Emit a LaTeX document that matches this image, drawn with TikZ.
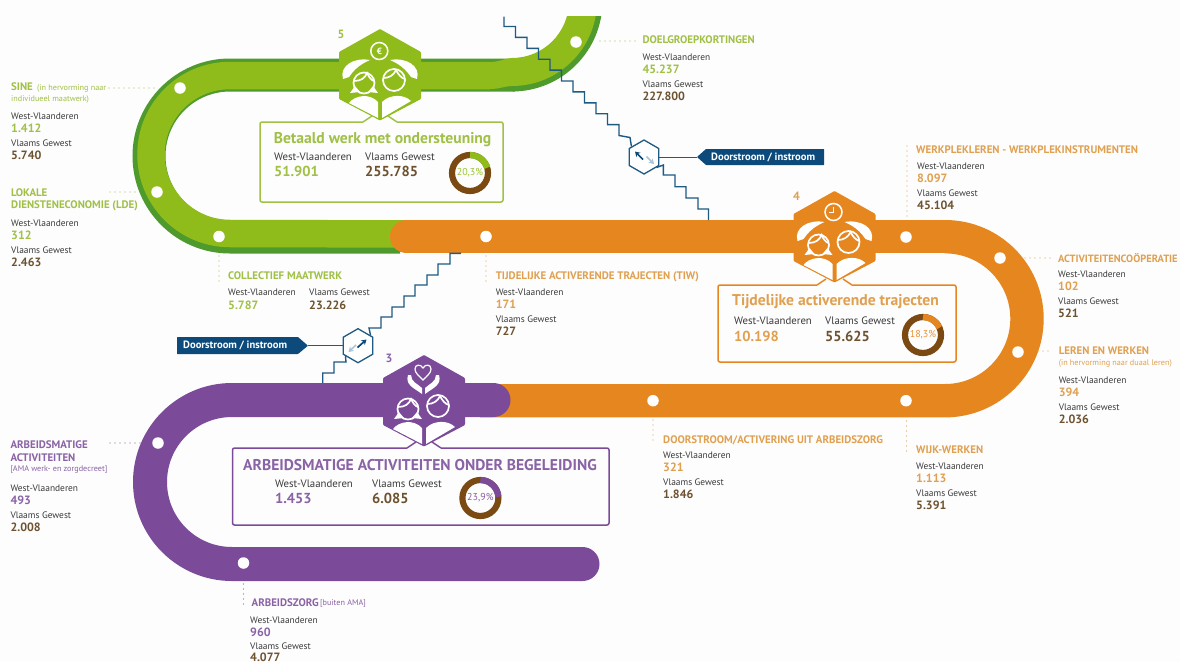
\documentclass[tikz,border=0pt]{standalone}
\usepackage{fontspec}
\setmainfont{PT Sans}
\usetikzlibrary{arrows.meta,shapes.geometric}
\definecolor{bggrey}{HTML}{FDFDFD}
\definecolor{grn}{HTML}{8FBC1B}
\definecolor{grnd}{HTML}{4E9A2C}
\definecolor{grnt}{HTML}{A0C046}
\definecolor{org}{HTML}{E6861E}
\definecolor{orgt}{HTML}{E0A050}
\definecolor{pur}{HTML}{7B4B99}
\definecolor{purt}{HTML}{8A62A6}
\definecolor{brn}{HTML}{7A4A12}
\definecolor{brnt}{HTML}{6E5230}
\definecolor{navy}{HTML}{0D4A7C}
\definecolor{stair}{HTML}{1E5A82}
\definecolor{lblue}{HTML}{A9C4DC}
\definecolor{txt}{HTML}{3A3A3A}
\tikzset{
  band/.style={line width=33pt,line cap=butt},
  spot/.style={circle,fill=white,inner sep=0pt,minimum size=11.5pt},
  leader/.style={line width=1.1pt,line cap=round,dash pattern=on 0pt off 5pt,draw=#1},
  stairline/.style={draw=stair,line width=1.4pt,line join=miter},
  head/.style={anchor=west,inner sep=0pt,font=\fontsize{10.9}{12}\selectfont\bfseries},
  small/.style={anchor=west,inner sep=0pt,font=\fontsize{8.2}{9}\selectfont,text=#1},
  wv/.style={anchor=west,inner sep=0pt,text=txt,font=\fontsize{9.4}{11}\selectfont},
  num/.style={anchor=west,inner sep=0pt,font=\fontsize{12}{14}\selectfont\bfseries},
  boxwv/.style={anchor=west,inner sep=0pt,text=txt,font=\fontsize{10.8}{12}\selectfont},
  bignum/.style={anchor=west,inner sep=0pt,font=\fontsize{14.5}{16}\selectfont\bfseries},
  boxtitle/.style={anchor=west,inner sep=0pt,font=\fontsize{15.6}{17}\selectfont\bfseries},
  stepnum/.style={inner sep=0pt,font=\fontsize{12}{14}\selectfont\bfseries},
  pct/.style={inner sep=0pt,font=\fontsize{10}{11}\selectfont},
  pennant/.style={anchor=west,inner sep=0pt,text=white,font=\fontsize{10.6}{12}\selectfont\bfseries},
  ico/.style={white,line width=1.7pt},
}
% name, x, y, west-vlaanderen, vlaams gewest, colour
\newcommand{\dblock}[6]{%
  \node[wv] (#1a) at (#2,#3) {West-Vlaanderen};
  \node[num,text=#6] (#1b) at (#2,#3+12.3) {#4};
  \node[wv] (#1c) at (#2,#3+27) {Vlaams Gewest};
  \node[num,text=brnt] (#1d) at (#2,#3+39.3) {#5};
}
% donut: name, x, y, colour, degrees, label
\newcommand{\donut}[6]{%
  \coordinate (#1) at (#2,#3);
  \draw[brn,line width=6.2pt] (#1) circle (18pt);
  \draw[#4,line width=6.2pt] (#2,#3-18) arc[start angle=-90,end angle=-90+#5,radius=18];
  \node[pct,text=#4!90!white] (#1t) at (#1) {#6};
}
% hexagon with people and book: x, y, colour
\newcommand{\hexbase}[3]{%
  \fill[#3,rounded corners=1pt] (#1,#2-46) -- (#1+41,#2-23) -- (#1+41,#2+24) -- (#1,#2+45.5) -- (#1-41,#2+24) -- (#1-41,#2-23) -- cycle;
  \begin{scope}[shift={(#1,#2)}]
    \draw[ico] (-16,8) circle (10.5pt);
    \draw[ico] (-26,6) .. controls (-19,6) and (-15,3) .. (-13,-2) .. controls (-11,2) and (-9,5) .. (-6,6);
    \fill[white] (-30,18) -- (-25,11) -- (-20,17) -- cycle;
    \fill[white] (-2,18) -- (-7,11) -- (-12,17) -- cycle;
    \draw[ico] (14,5) circle (11pt);
    \draw[ico] (3.5,3) .. controls (9,3) and (14,0) .. (16,-5) .. controls (18,-1) and (21,3) .. (25,4);
    \fill[white] (-31,28) .. controls (-25,20) and (-10,18) .. (-2,27) -- (-2,43) -- cycle;
    \fill[white] (2,27) .. controls (10,19) and (24,19) .. (31,26) -- (2,43) -- cycle;
  \end{scope}
}
\newcommand{\hands}[2]{%
  \begin{scope}[shift={(#1,#2)}]
    \fill[white] (-37,4) .. controls (-41,-9) and (-26,-18) .. (-10,-15) .. controls (-19,-11) and (-24,-7) .. (-28,-2) -- (-31,2) -- cycle;
    \fill[white] (37,4) .. controls (41,-9) and (26,-18) .. (10,-15) .. controls (19,-11) and (24,-7) .. (28,-2) -- (31,2) -- cycle;
  \end{scope}
}
\begin{document}
\begin{tikzpicture}[x=1pt,y=-1pt]
\useasboundingbox (0,0) rectangle (1180,662);
\fill[bggrey] (0,0) rectangle (1180,662);

% ---------- green band
\draw[band,grnd] (515,75) -- (230,75) arc[start angle=-90,end angle=-270,radius=81] -- (400,237);
\draw[grn,line width=27.5pt] (490,75.5) -- (230,75.5) arc[start angle=-90,end angle=-270,radius=79] -- (430,234);
\begin{scope}
  \clip (0,16) rectangle (1180,662);
  \draw[band,grnd] (512,75) arc[start angle=90,end angle=0,radius=74];
  \fill[grn] (440,62) -- (490,62) .. controls (500,62) and (505,58) .. (512,58) arc[start angle=90,end angle=0,radius=57] -- (597,1) arc[start angle=0,end angle=90,radius=85] .. controls (505,86) and (500,89) .. (490,89) -- (440,89) -- cycle;
\end{scope}

% ---------- orange band
\draw[org,line width=33.4pt,line cap=round] (406.7,236.7) -- (945,236.7);
\draw[band,org,line width=33.4pt] (945,236.7) arc[start angle=-90,end angle=90,radius=82] -- (480,400.7);

% ---------- purple band
\draw[pur,line width=34pt,line cap=round,line join=round] (493.5,400) -- (232,400) arc[start angle=-90,end angle=-270,radius=82] -- (582.5,564);

% ---------- staircases
\node[draw=stair,line width=1.3pt,fill=white,regular polygon,regular polygon sides=6,minimum size=34pt,inner sep=0pt,shape border rotate=30] (hup) at (644,157) {};
\node[draw=stair,line width=1.3pt,fill=white,regular polygon,regular polygon sides=6,minimum size=34pt,inner sep=0pt,shape border rotate=30] (hdn) at (358,345.7) {};
\coordinate (stA) at (504,16.5);
\coordinate (stB) at (708.5,220);
\coordinate (stC) at (461,253.3);
\coordinate (stD) at (322.7,383);
\draw[stairline] (stA) -- ++(0,10) -- ++(11.5,0) -- ++(0,10.9) -- ++(11.5,0) -- ++(0,10.9) -- ++(11.5,0) -- ++(0,10.9) -- ++(11.5,0) -- ++(0,10.9) -- ++(11.5,0) -- ++(0,10.9) -- ++(11.5,0) -- ++(0,10.9) -- ++(11.5,0) -- ++(0,10.9) -- ++(11.5,0) -- ++(0,10.9) -- ++(11.5,0) -- ++(0,10.9) -- ++(11.5,0) -- ++(0,10.9) -- (630,137.5) -- (hup.140);
\draw[stairline] (hup.-40) -- (663.4,165) -- (663.4,175) -- (675,175) -- (675,186.7) -- (686,186.7) -- (686,198) -- (698,198) -- (698,209) -- (708.5,209) -- (stB);
\draw[stairline] (stC) -- (450,253.3) -- (450,264) -- (438,264) -- (438,275) -- (427,275) -- (427,285) -- (415,285) -- (415,296) -- (404,296) -- (404,307) -- (392,307) -- (392,317) -- (381,317) -- (381,328) -- (369,328) -- (hdn.40);
\draw[stairline] (hdn.-140) -- (346,362) -- (334,362) -- (334,373) -- (322.7,373) -- (stD);
\draw[-{Stealth[length=5pt,width=6pt]},navy,line width=1.7pt] (643,159.5) -- (635,151.5);
\draw[-{Stealth[length=5pt,width=6pt]},lblue,line width=1.5pt] (646.5,156.5) -- (654,164);
\draw[-{Stealth[length=5pt,width=6pt]},navy,line width=1.7pt] (357.5,347.5) -- (366.5,339.5);
\draw[-{Stealth[length=5pt,width=6pt]},lblue,line width=1.5pt] (356,345) -- (348.5,352);

% ---------- pennants
\fill[navy,rounded corners=0.5pt] (706,149) -- (824,149) -- (824,165) -- (706,165) -- (697,157) -- cycle;
\coordinate (penA) at (697,157);
\draw[stair,line width=1pt] (hup) ++(15,0) -- (penA);
\node[pennant] (penAt) at (711,157.5) {Doorstroom / instroom};
\fill[navy,rounded corners=0.5pt] (177,337) -- (298,337) -- (308,345.7) -- (298,354) -- (177,354) -- cycle;
\coordinate (penB) at (308,345.7);
\draw[stair,line width=1pt] (penB) -- (hdn.west);
\node[pennant] (penBt) at (183,345.7) {Doorstroom / instroom};

% ---------- spots
\node[spot] (s1) at (576,42) {};
\node[spot] (s2) at (180,88) {};
\node[spot] (s3) at (157,192) {};
\node[spot] (s4) at (219,236.5) {};
\node[spot] (s5) at (486,236.5) {};
\node[spot] (s6) at (906,237) {};
\node[spot] (s7) at (1000,258) {};
\node[spot] (s8) at (1018,352) {};
\node[spot] (s9) at (653,400.7) {};
\node[spot] (s10) at (906,400.7) {};
\node[spot] (s11) at (158,443) {};
\node[spot] (s12) at (243.5,563) {};

% ---------- hexagons
\hexbase{380}{75}{grn}
\hands{380}{75}
\draw[ico,line width=1.5pt] (379.3,51) circle (8.5pt);
\node[inner sep=0pt,text=white,font=\fontsize{9}{10}\selectfont\bfseries] (euro) at (379.3,51) {€};
\hexbase{834.5}{237}{org}
\hands{834.5}{237}
\draw[ico,line width=1.5pt] (833.5,212) circle (8.5pt);
\draw[ico,line width=1.2pt] (833.5,207) -- (833.5,212.5) -- (829,212.5);
\hexbase{424}{401}{pur}
\begin{scope}[shift={(424,401)}]
  \draw[ico,line width=1.2pt] (-1,-21) .. controls (-5,-25) and (-9,-28) .. (-9,-32) .. controls (-9,-37) and (-3,-37) .. (-1,-33) .. controls (1,-37) and (7,-37) .. (7,-32) .. controls (7,-28) and (3,-25) .. (-1,-21) -- cycle;
  \fill[white] (-16,-26) .. controls (-19,-16) and (-10,-13) .. (-2,-7) -- (-2,-13) .. controls (-6,-17) and (-13,-19) .. (-13,-26) -- cycle;
  \fill[white] (15,-26) .. controls (18,-16) and (9,-13) .. (1,-7) -- (1,-13) .. controls (5,-17) and (12,-19) .. (12,-26) -- cycle;
\end{scope}
\node[stepnum,text=grnt] (n5) at (341,34) {5};
\node[stepnum,text=orgt] (n4) at (796.6,196) {4};
\node[stepnum,text=purt] (n3) at (389,358) {3};

% ---------- boxes
\draw[grnt,line width=1.5pt,rounded corners=2pt] (363,122) -- (260,122) -- (260,202) -- (503,202) -- (503,122) -- (397,122);
\draw[grnt,line width=1.5pt] (363,122) -- (372,116) (397,122) -- (388,116);
\draw[org,line width=1.5pt,rounded corners=2pt] (817,285) -- (718,285) -- (718,362) -- (956,362) -- (956,285) -- (852,285);
\draw[org,line width=1.5pt] (817,285) -- (826,279) (852,285) -- (843,279);
\draw[pur,line width=1.5pt,rounded corners=2pt] (407,448) -- (232.5,448) -- (232.5,525) -- (609,525) -- (609,448) -- (441,448);
\draw[pur,line width=1.5pt] (407,448) -- (416,442) (441,448) -- (432,442);

% box contents
\node[boxtitle,text=grnt] (t5) at (273.6,140) {Betaald werk met ondersteuning};
\node[boxwv] (t5a) at (274,157) {West-Vlaanderen};
\node[boxwv] (t5b) at (365,157) {Vlaams Gewest};
\node[bignum,text=grnt] (t5c) at (274,171) {51.901};
\node[bignum,text=brnt] (t5d) at (365,171) {255.785};
\donut{d5}{470}{173}{grn}{73}{20,3\%}
\node[boxtitle,text=orgt] (t4) at (732,302) {Tijdelijke activerende trajecten};
\node[boxwv] (t4a) at (734,321) {West-Vlaanderen};
\node[boxwv] (t4b) at (825,321) {Vlaams Gewest};
\node[bignum,text=orgt] (t4c) at (734,336) {10.198};
\node[bignum,text=brnt] (t4d) at (825,336) {55.625};
\donut{d4}{923}{335}{org}{66}{18,3\%}
\node[boxtitle,text=purt] (t3) at (243,465) {ARBEIDSMATIGE ACTIVITEITEN ONDER BEGELEIDING};
\node[boxwv] (t3a) at (275,484) {West-Vlaanderen};
\node[boxwv] (t3b) at (372,484) {Vlaams Gewest};
\node[bignum,text=purt] (t3c) at (275,498) {1.453};
\node[bignum,text=brnt] (t3d) at (372,498) {6.085};
\donut{d3}{480.4}{498}{pur}{86}{23,9\%}

% ---------- labels: green
\node[head,text=grnt] (l1) at (11,87) {SINE};
\node[small=grnt,anchor=west] (l1s) at (37,88) {(in hervorming naar};
\node[small=grnt] (l1t) at (11,99) {individueel maatwerk)};
\dblock{b1}{11}{116}{1.412}{5.740}{grnt}
\node[head,text=grnt] (l2) at (11,193) {LOKALE};
\node[head,text=grnt] (l2b) at (11,206) {DIENSTENECONOMIE (LDE)};
\dblock{b2}{11}{223}{312}{2.463}{grnt}
\node[head,text=grnt] (l3) at (228,276) {COLLECTIEF MAATWERK};
\node[wv] (l3a) at (228,292) {West-Vlaanderen};
\node[num,text=grnt] (l3b) at (228,305) {5.787};
\node[wv] (l3c) at (309,292) {Vlaams Gewest};
\node[num,text=brnt] (l3d) at (309,305) {23.226};
\node[head,text=grnt] (l4) at (642.4,40) {DOELGROEPKORTINGEN};
\dblock{b4}{642.4}{57}{45.237}{227.800}{grnt}

% ---------- labels: orange
\node[head,text=orgt] (l5) at (495.6,277) {TIJDELIJKE ACTIVERENDE TRAJECTEN (TIW)};
\dblock{b5}{495.6}{292}{171}{727}{orgt}
\node[head,text=orgt] (l6) at (916,150) {WERKPLEKLEREN - WERKPLEKINSTRUMENTEN};
\dblock{b6}{917}{166}{8.097}{45.104}{orgt}
\node[head,text=orgt,font=\fontsize{10.5}{12}\selectfont\bfseries] (l7) at (1058,258) {ACTIVITEITENCOÖPERATIE};
\dblock{b7}{1058}{274}{102}{521}{orgt}
\node[head,text=orgt] (l8) at (1058.6,351) {LEREN EN WERKEN};
\node[small=orgt] (l8s) at (1058.6,363) {(in hervorming naar duaal leren)};
\dblock{b8}{1058.6}{380}{394}{2.036}{orgt}
\node[head,text=orgt] (l9) at (663,440) {DOORSTROOM/ACTIVERING UIT ARBEIDSZORG};
\dblock{b9}{663}{455}{321}{1.846}{orgt}
\node[head,text=orgt] (l10) at (916,450) {WIJK-WERKEN};
\dblock{b10}{916}{466}{1.113}{5.391}{orgt}

% ---------- labels: purple
\node[head,text=purt] (l11) at (10.3,445) {ARBEIDSMATIGE};
\node[head,text=purt] (l11b) at (10.3,458) {ACTIVITEITEN};
\node[small=purt] (l11s) at (10.3,470) {[AMA werk- en zorgdecreet]};
\dblock{b11}{10.3}{488}{493}{2.008}{purt}
\node[head,text=purt] (l12) at (251.5,603) {ARBEIDSZORG};
\node[small=purt] (l12s) at (320,603.5) {[buiten AMA]};
\node[wv] (b12a) at (250,620) {West-Vlaanderen};
\node[num,text=purt] (b12b) at (250,632) {960};
\node[wv] (b12c) at (250,646.5) {Vlaams Gewest};
\node[num,text=brnt] (b12d) at (250,656.8) {4.077};

% ---------- dotted leaders
\coordinate (q1) at (109,88); \coordinate (q1e) at (155,88);
\coordinate (q2) at (110,192); \coordinate (q2e) at (135,192);
\coordinate (q3) at (219,256); \coordinate (q3e) at (219,283);
\coordinate (q4) at (486,256); \coordinate (q4e) at (486,283);
\coordinate (q5) at (600,41); \coordinate (q5e) at (637,41);
\coordinate (q6) at (907,146); \coordinate (q6e) at (907,217);
\coordinate (q7) at (1025,258); \coordinate (q7e) at (1050,258);
\coordinate (q8) at (1038,351); \coordinate (q8e) at (1049,351);
\coordinate (q9) at (653,420); \coordinate (q9e) at (653,442);
\coordinate (q10) at (906.5,421); \coordinate (q10e) at (906.5,452);
\coordinate (q11) at (110,443); \coordinate (q11e) at (140,443);
\coordinate (q12) at (243.5,584); \coordinate (q12e) at (243.5,607);
\draw[leader=grnt] (q1) -- (q1e);
\draw[leader=grnt] (q2) -- (q2e);
\draw[leader=grnt] (q3) -- (q3e);
\draw[leader=orgt] (q4) -- (q4e);
\draw[leader=grnt] (q5) -- (q5e);
\draw[leader=orgt] (q6) -- (q6e);
\draw[leader=orgt] (q7) -- (q7e);
\draw[leader=orgt] (q8) -- (q8e);
\draw[leader=orgt] (q9) -- (q9e);
\draw[leader=orgt] (q10) -- (q10e);
\draw[leader=purt] (q11) -- (q11e);
\draw[leader=purt] (q12) -- (q12e);
\end{tikzpicture}
\end{document}
